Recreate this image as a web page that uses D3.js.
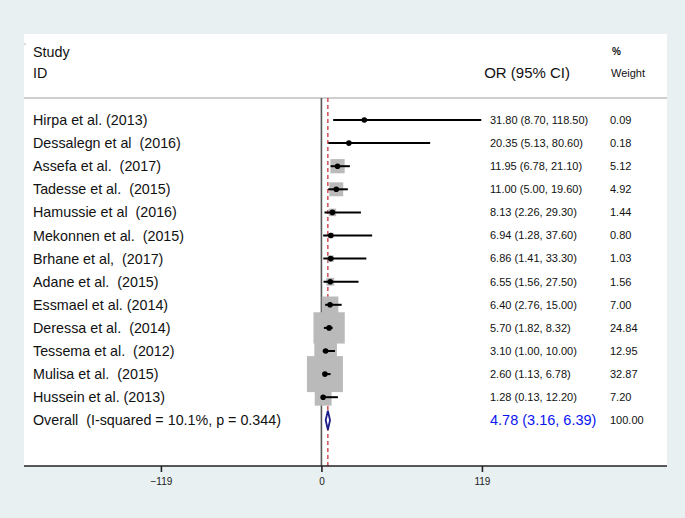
<!DOCTYPE html>
<html>
<head>
<meta charset="utf-8">
<script src="https://cdn.jsdelivr.net/npm/d3@7"></script>
<style>
  body { margin: 0; background: #e8f0f1; }
  svg { display: block; font-family: "Liberation Sans", Arial, sans-serif; }
  text { white-space: pre; }
</style>
</head>
<body>
<div id="chart"></div>
<script>
// study rows, top to bottom
const studies = [
    "Hirpa et al. (2013)", "Dessalegn et al  (2016)", "Assefa et al.  (2017)",
    "Tadesse et al.  (2015)", "Hamussie et al  (2016)", "Mekonnen et al.  (2015)",
    "Brhane et al,  (2017)", "Adane et al.  (2015)", "Essmael et al. (2014)",
    "Deressa et al.  (2014)", "Tessema et al.  (2012)", "Mulisa et al.  (2015)",
    "Hussein et al. (2013)"
];
const or = [31.80, 20.35, 11.95, 11.00, 8.13, 6.94, 6.86, 6.55, 6.40, 5.70, 3.10, 2.60, 1.28];
const lo = [8.70, 5.13, 6.78, 5.00, 2.26, 1.28, 1.41, 1.56, 2.76, 1.82, 1.00, 1.13, 0.13];
const hi = [118.50, 80.60, 21.10, 19.60, 29.30, 37.60, 33.30, 27.50, 15.00, 8.32, 10.00, 6.78, 12.20];
const weights = [0.09, 0.18, 5.12, 4.92, 1.44, 0.80, 1.03, 1.56, 7.00, 24.84, 12.95, 32.87, 7.20];

const overall = {label: "Overall  (I-squared = 10.1%, p = 0.344)", or: 4.78, lo: 3.16, hi: 6.39, weight: 100.00};
const axisTicks = [-119, 0, 119];

const W = 685, H = 518;
const panel = {x0: 24, x1: 667, y0: 34, y1: 466};

const svg = d3.select("#chart").append("svg")
    .attr("width", W)
    .attr("height", H);

svg.append("rect")
    .attr("x", panel.x0).attr("y", panel.y0)
    .attr("width", panel.x1 - panel.x0).attr("height", panel.y1 - panel.y0)
    .attr("fill", "#ffffff");

// 0 -> 321.5, +-119 -> +-160.5px
const x = d3.scaleLinear()
    .domain([-220.5, 256.2])
    .range([panel.x0, panel.x1]);

const rowIdx = d3.range(studies.length + 1);
const y = d3.scalePoint()
    .domain(rowIdx)
    .range([120, 420.3]);

// side of the weight box grows with sqrt(weight)
const side = d3.scaleSqrt()
    .domain([0, 32.87])
    .range([0, 36]);

const fmt = d3.format(".2f");
const labelSize = 14.3;

// header
const hdr = svg.append("g").attr("fill", "#111");
hdr.append("text").attr("x", 33).attr("y", 52).attr("dy", "0.35em")
    .attr("font-size", labelSize).text("Study");
hdr.append("text").attr("x", 33).attr("y", 73).attr("dy", "0.35em")
    .attr("font-size", labelSize).text("ID");
hdr.append("text").attr("x", 570).attr("y", 73).attr("dy", "0.35em")
    .attr("text-anchor", "end").attr("font-size", 15).text("OR (95% CI)");
hdr.append("text").attr("x", 612).attr("y", 51).attr("dy", "0.35em")
    .attr("font-size", 10).attr("font-weight", "bold").text("%");
hdr.append("text").attr("x", 611).attr("y", 73).attr("dy", "0.35em")
    .attr("font-size", 11).text("Weight");
svg.append("circle").attr("cx", 25).attr("cy", 44).attr("r", 0.6).attr("fill", "#555");

svg.append("line")
    .attr("x1", panel.x0).attr("x2", panel.x1)
    .attr("y1", 98).attr("y2", 98)
    .attr("stroke", "#cfcfcf").attr("stroke-width", 2);

// reference lines (drawn under the boxes)
svg.append("line")
    .attr("x1", x(0)).attr("x2", x(0))
    .attr("y1", 98).attr("y2", panel.y1)
    .attr("stroke", "#555").attr("stroke-width", 1.6);
svg.append("line")
    .attr("x1", x(overall.or)).attr("x2", x(overall.or))
    .attr("y1", 98).attr("y2", panel.y1)
    .attr("stroke", "#c8202a").attr("stroke-width", 1.2)
    .attr("stroke-dasharray", "4,3");

const rows = studies.map((s, i) => ({
    study: s, or: or[i], lo: lo[i], hi: hi[i], weight: weights[i], i: i
}));

svg.append("g").selectAll("rect")
    .data(rows)
    .join("rect")
    .attr("x", d => x(d.or) - side(d.weight) / 2)
    .attr("y", d => y(d.i) - side(d.weight) / 2)
    .attr("width", d => side(d.weight))
    .attr("height", d => side(d.weight))
    .attr("fill", "#bababa");

svg.append("g").selectAll("line")
    .data(rows)
    .join("line")
    .attr("x1", d => x(d.lo))
    .attr("x2", d => x(d.hi))
    .attr("y1", d => y(d.i))
    .attr("y2", d => y(d.i))
    .attr("stroke", "#000").attr("stroke-width", 2);

svg.append("g").selectAll("circle")
    .data(rows)
    .join("circle")
    .attr("cx", d => x(d.or))
    .attr("cy", d => y(d.i))
    .attr("r", 2.8)
    .attr("fill", "#000");

// overall diamond
const oy = y(studies.length);
svg.append("path")
    .attr("d", `M${x(overall.lo)},${oy} L${x(overall.or)},${oy - 9.5} L${x(overall.hi)},${oy} L${x(overall.or)},${oy + 9.5} Z`)
    .attr("fill", "#fff")
    .attr("stroke", "#1c1c8a").attr("stroke-width", 1.8);

// text columns
const labels = svg.append("g").attr("fill", "#111");
labels.selectAll("text.study")
    .data(rows)
    .join("text")
    .attr("class", "study")
    .attr("x", 33).attr("y", d => y(d.i)).attr("dy", "0.35em")
    .attr("font-size", labelSize)
    .text(d => d.study);
labels.selectAll("text.ci")
    .data(rows)
    .join("text")
    .attr("class", "ci")
    .attr("x", 490).attr("y", d => y(d.i)).attr("dy", "0.35em")
    .attr("font-size", 11)
    .text(d => `${fmt(d.or)} (${fmt(d.lo)}, ${fmt(d.hi)})`);
labels.selectAll("text.wt")
    .data(rows)
    .join("text")
    .attr("class", "wt")
    .attr("x", 610).attr("y", d => y(d.i)).attr("dy", "0.35em")
    .attr("font-size", 11)
    .text(d => fmt(d.weight));

labels.append("text")
    .attr("x", 33).attr("y", oy).attr("dy", "0.35em")
    .attr("font-size", labelSize)
    .text(overall.label);
labels.append("text")
    .attr("x", 490).attr("y", oy).attr("dy", "0.35em")
    .attr("font-size", 14.5).attr("fill", "#0a14f0")
    .text(`${fmt(overall.or)} (${fmt(overall.lo)}, ${fmt(overall.hi)})`);
labels.append("text")
    .attr("x", 610).attr("y", oy).attr("dy", "0.35em")
    .attr("font-size", 11)
    .text(fmt(overall.weight));

// x axis
const axis = svg.append("g")
    .attr("transform", `translate(0,${panel.y1})`)
    .call(d3.axisBottom(x).tickValues(axisTicks).tickSize(6).tickPadding(6).tickFormat(d3.format("d")));
axis.select(".domain")
    .attr("d", `M${panel.x0},0H${panel.x1}`)
    .attr("stroke", "#222").attr("stroke-width", 1.6);
axis.selectAll(".tick line").attr("stroke", "#222").attr("stroke-width", 1.6);
axis.selectAll(".tick text")
    .attr("font-family", "\"Liberation Sans\", Arial, sans-serif")
    .attr("font-size", 10).attr("fill", "#222");
</script>
</body>
</html>
